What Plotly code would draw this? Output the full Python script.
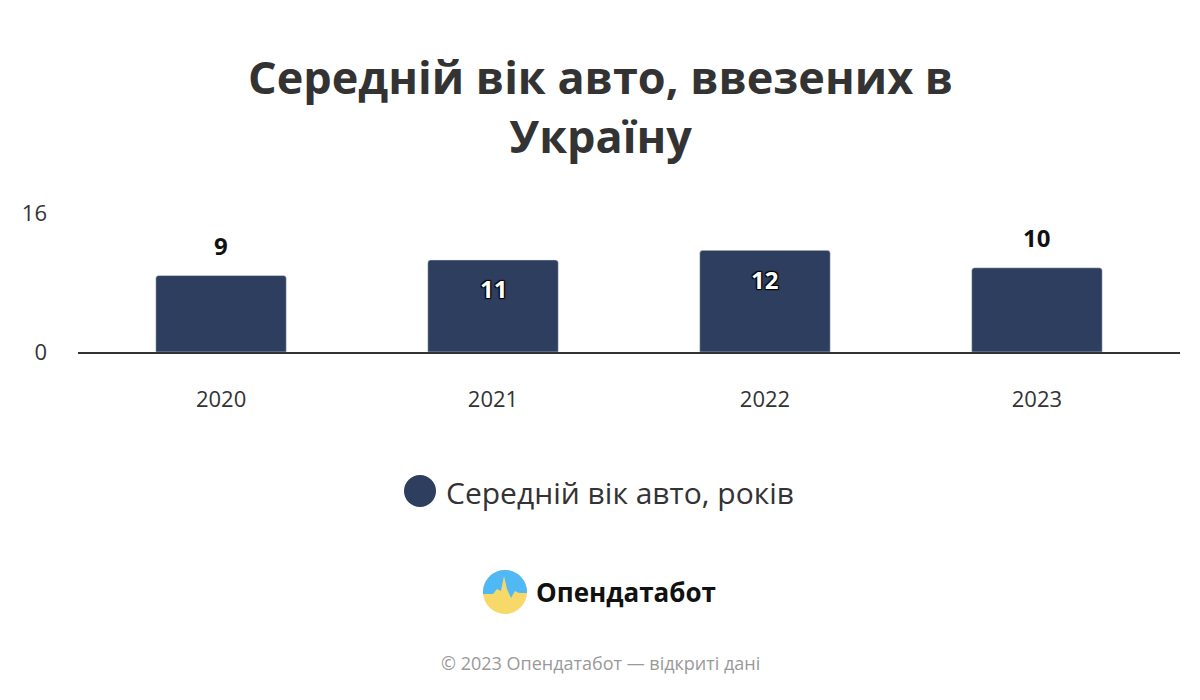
import math
import plotly.graph_objects as go

years = ["2020", "2021", "2022", "2023"]
ages = [8.8, 10.6, 11.7, 9.7]
labels = ["9", "11", "12", "10"]
label_inside = [False, True, True, False]
series_name = "Середній вік авто, років"

BAR = "#2e3e5e"
FONT = "Open Sans, sans-serif"
OFF = 8  # page body margin around the plot div

# plot area in page pixels: x 78..1180, y 213..352
L, R, T, B = 78 - OFF, 1180 - OFF, 213 - OFF, 352 - OFF
W, H = 1200 - 2 * OFF, 700 - 2 * OFF


def px(x):
    return (x - OFF - L) / (R - L)


def py(y):
    return (B - (y - OFF)) / (B - T)


fig = go.Figure()
fig.add_trace(go.Bar(
    x=years, y=ages, showlegend=False,
    marker=dict(color=BAR, cornerradius=3), width=0.48,
))

# value labels: above the bar or inside near its top
OUTLINE = "1px 1px 1px #000, -1px -1px 1px #000, 1px -1px 1px #000, -1px 1px 1px #000"
for i, (v, lab, inside) in enumerate(zip(ages, labels, label_inside)):
    font = dict(size=24, family=FONT, color="white" if inside else "#111")
    if inside:
        font["shadow"] = OUTLINE
    fig.add_annotation(
        x=i, y=v, xref="x", yref="y", text=f"<b>{lab}</b>", showarrow=False,
        yanchor="middle", yshift=-29 if inside else 30, font=font,
    )

# title
fig.add_annotation(text="<b>Середній вік авто, ввезених в<br>Україну</b>", xref="paper", yref="paper",
                   x=px(600), y=py(106), xanchor="center", yanchor="middle", showarrow=False,
                   font=dict(size=45, color="#333", family=FONT))

# legend: round marker + label
fig.add_shape(type="circle", xref="paper", yref="paper", xsizemode="pixel", ysizemode="pixel",
              xanchor=px(420), yanchor=py(491), x0=-16, x1=16, y0=-16, y1=16,
              fillcolor=BAR, line_width=0)
fig.add_annotation(text=series_name, xref="paper", yref="paper", x=px(444), y=py(492),
                   xanchor="left", yanchor="middle", showarrow=False,
                   font=dict(size=30, color="#333", family=FONT))

# logo: yellow circle with blue sky and a jagged skyline
ax, ay = px(505), py(592)
fig.add_shape(type="circle", xref="paper", yref="paper", xsizemode="pixel", ysizemode="pixel",
              xanchor=ax, yanchor=ay, x0=-22, x1=22, y0=-22, y1=22,
              fillcolor="#f7d96a", line_width=0, layer="above")
arc = " ".join(f"L {22*math.cos(math.radians(a)):.1f} {22*math.sin(math.radians(a)):.1f}"
               for a in range(0, 181, 10))
fig.add_shape(type="path", xref="paper", yref="paper", xsizemode="pixel", ysizemode="pixel",
              xanchor=ax, yanchor=ay, fillcolor="#4fb8f5", line_width=0, layer="above",
              path="M -22 -2 L -12 -2 L -8 3 L -4 1 L -1 16 L 2 3 L 6 -6 L 10 1 L 14 -1 L 22 -1 "
                   + arc + " Z")

fig.add_annotation(text="<b>Опендатабот</b>", xref="paper", yref="paper", x=px(534), y=ay,
                   xanchor="left", yanchor="middle", showarrow=False,
                   font=dict(size=26, color="#111", family=FONT))
fig.add_annotation(text="© 2023 Опендатабот — відкриті дані", xref="paper", yref="paper",
                   x=px(600), y=py(663), xanchor="center", yanchor="middle",
                   showarrow=False, font=dict(size=18, color="#999", family=FONT))

fig.update_layout(
    width=W, height=H, paper_bgcolor="white", plot_bgcolor="white",
    margin=dict(l=L, r=W - R, t=T, b=H - B, autoexpand=False),
    font=dict(family=FONT, color="#333"),
    showlegend=False,
)
fig.update_yaxes(range=[0, 16], tickvals=[0, 16], showgrid=True, gridcolor="#e6e6e6", automargin=False,
                 tickfont=dict(size=22, color="#333"), zeroline=False, ticks="", ticklabelstandoff=30)
fig.update_xaxes(range=[-0.526, 3.526], showline=True, linecolor="#333", linewidth=1.5,
                 tickfont=dict(size=22, color="#333"), automargin=False, ticks="", ticklabelstandoff=27)

fig.write_html("out.html")
